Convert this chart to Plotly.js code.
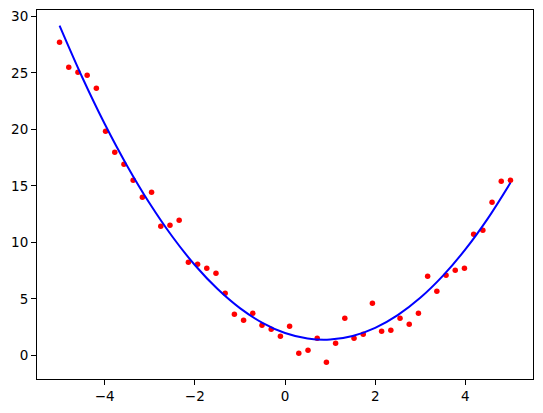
<!DOCTYPE html>
<html>
<head>
<meta charset="utf-8">
<script src="https://cdn.plot.ly/plotly-3.0.1.min.js"></script>
<style>html,body{margin:0;padding:0;background:#fff;}#chart{width:543px;height:413px;}</style>
</head>
<body>
<div id="chart"></div>
<script>
// Scatter points: 50 samples evenly spaced on [-5, 5]
const pointStart = -5;
const pointEnd = 5;
const pointY = [27.7, 25.5, 25.04, 24.78, 23.63, 19.82, 17.96, 16.9, 15.49, 13.98,
                14.42, 11.42, 11.5, 11.95, 8.23, 8.05, 7.70, 7.26, 5.49, 3.63,
                3.10, 3.72, 2.65, 2.30, 1.68, 2.57, 0.18, 0.44, 1.50, -0.62,
                1.06, 3.27, 1.50, 1.86, 4.60, 2.12, 2.21, 3.27, 2.74, 3.72,
                6.99, 5.66, 7.08, 7.52, 7.70, 10.71, 11.06, 13.54, 15.40, 15.49];
// Fitted curve
const curveX = [-5, -4.5, -4, -3.5, -3, -2.5, -2, -1.5, -1, -0.5, 0, 0.5, 1, 1.5, 2, 2.5, 3, 3.5, 4, 4.5, 5];
const curveY = [29.17, 24.63, 20.49, 16.76, 13.43, 10.51, 7.99, 5.88, 4.17, 2.87, 1.97, 1.48, 1.39, 1.71, 2.43, 3.56, 5.09, 7.03, 9.37, 12.12, 15.27];
const xTicks = [-4, -2, 0, 2, 4];
const yTicks = [0, 5, 10, 15, 20, 25, 30];

const n = pointY.length;
const pointX = pointY.map((_, i) => pointStart + i * (pointEnd - pointStart) / (n - 1));

const font = {family: 'DejaVu Sans', size: 13.5, color: '#000'};
const axisCommon = {
  showgrid: false, zeroline: false, showline: true, mirror: true,
  linecolor: '#000', linewidth: 1, ticks: 'outside', ticklen: 5, tickwidth: 1,
  tickcolor: '#000', tickfont: font
};

Plotly.newPlot('chart', [
  {x: pointX, y: pointY, mode: 'markers', type: 'scatter',
   marker: {color: '#ff0000', size: 5.5}},
  {x: curveX, y: curveY, mode: 'lines', type: 'scatter',
   line: {color: '#0000ff', width: 2, shape: 'spline'}}
], {
  width: 543, height: 413,
  margin: {l: 37, r: 10, t: 10, b: 34},
  paper_bgcolor: '#fff', plot_bgcolor: '#fff',
  showlegend: false,
  xaxis: Object.assign({range: [-5.5, 5.5], tickvals: xTicks}, axisCommon),
  yaxis: Object.assign({range: [-2.1, 30.56], tickvals: yTicks}, axisCommon)
}, {staticPlot: true});
</script>
</body>
</html>
